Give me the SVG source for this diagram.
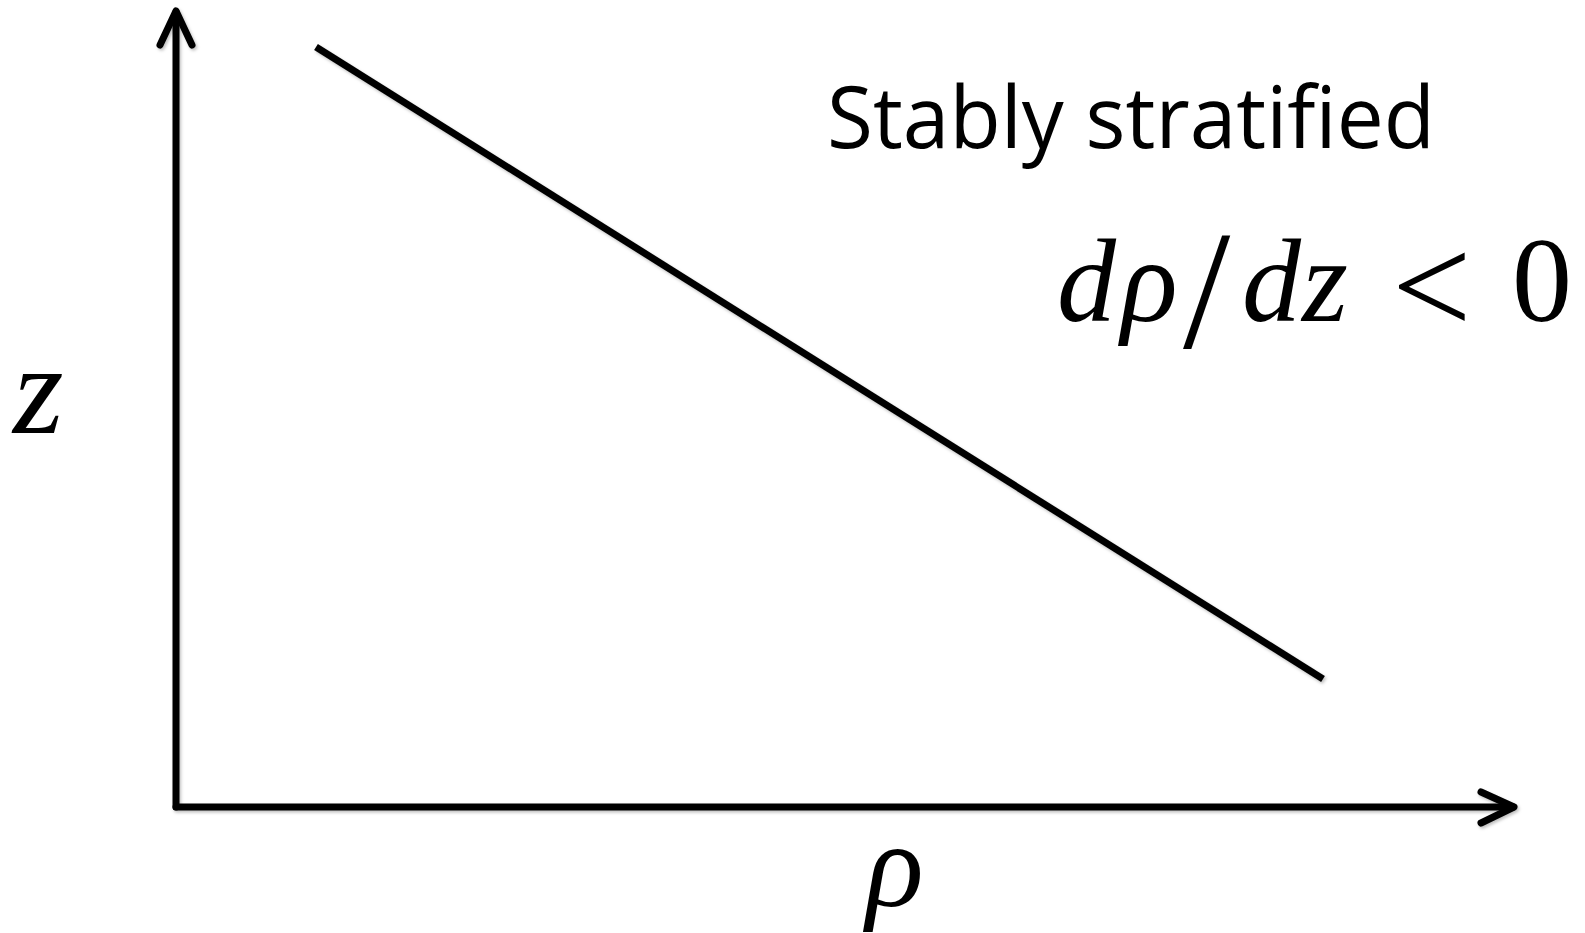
<svg xmlns="http://www.w3.org/2000/svg" width="1585" height="933" viewBox="0 0 1585 933">
<style>
.ax{fill:none;stroke:#000;stroke-width:7;stroke-linecap:round;stroke-linejoin:round}
.m{font-family:"Liberation Serif","DejaVu Serif",serif;font-style:italic;fill:#000}
.r{font-family:"Liberation Serif","DejaVu Serif",serif;fill:#000}
.lbl{font-family:"Open Sans","Noto Sans",sans-serif;fill:#000}
</style>
<defs>
<filter id="sh" x="-5%" y="-5%" width="110%" height="110%">
<feDropShadow dx="1.5" dy="2" stdDeviation="1.5" flood-color="#000" flood-opacity="0.25"/>
</filter>
</defs>
<rect width="1585" height="933" fill="#fff"/>
<g id="connectors" filter="url(#sh)">
<path class="ax" d="M176,807 L176,12" style="stroke-linejoin:miter"/>
<path class="ax" d="M160,45 L176,11 L192,45"/>
<path class="ax" d="M176,807 L1513,807"/>
<path class="ax" d="M1481,792 L1514,807 L1481,823"/>
<path class="ax" d="M316,47 L1323,679" style="stroke-linecap:butt"/>
</g>
<g id="label-title">
<text class="lbl" x="827" y="148" font-size="86" textLength="608" lengthAdjust="spacingAndGlyphs">Stably stratified</text>
</g>
<g id="label-eq">
<text class="m" x="1057" y="321" font-size="118">d</text>
<text class="m" x="1121" y="321" font-size="118">ρ</text>
<text class="r" x="1183" y="347" font-size="170">/</text>
<text class="m" x="1242" y="321" font-size="118">d</text>
<text class="m" x="1302" y="321" font-size="118">z</text>
<text class="r" x="1392" y="334" font-size="141">&lt;</text>
<text class="r" x="1512" y="321" font-size="120">0</text>
</g>
<g id="label-z">
<text class="m" x="13" y="433" font-size="130">z</text>
</g>
<g id="label-rho">
<text class="m" x="866" y="906" font-size="120">ρ</text>
</g>
</svg>
